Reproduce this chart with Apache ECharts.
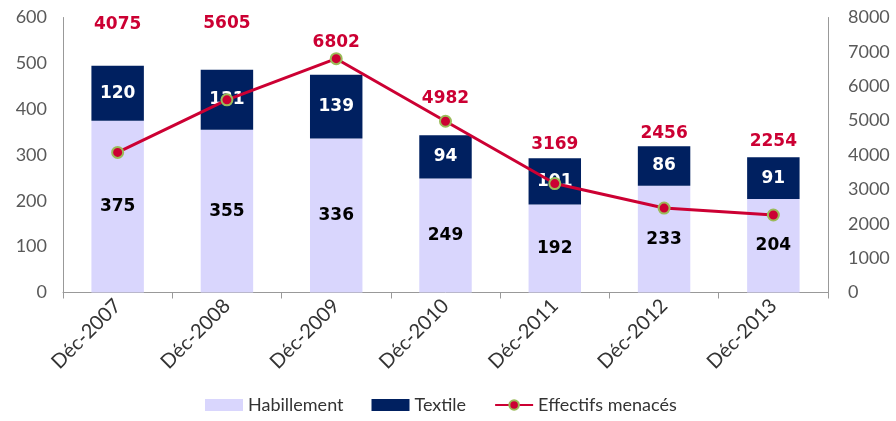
<!DOCTYPE html>
<html>
<head>
<meta charset="utf-8">
<script src="https://cdn.jsdelivr.net/npm/echarts@6/dist/echarts.min.js"></script>
<style>
  html, body { margin: 0; padding: 0; background: #fff; }
  #myChart { width: 896px; height: 421px; }
</style>
</head>
<body>
<div id="myChart"></div>
<script>
// données
var categories = ["Déc-2007", "Déc-2008", "Déc-2009", "Déc-2010", "Déc-2011", "Déc-2012", "Déc-2013"];
var habillement = [375, 355, 336, 249, 192, 233, 204];
var textile = [120, 131, 139, 94, 101, 86, 91];
var effectifs = [4075, 5605, 6802, 4982, 3169, 2456, 2254];

// décalage vertical des étiquettes de la courbe (placées à la main dans l'original)
var labelShift = [-108, -56, 4, -3, -19, -54, -53];

var chart = echarts.init(document.getElementById("myChart"));

var axisText = { color: "#595959", fontFamily: "Lato", fontSize: 18 };
var barLabelFont = { fontFamily: "DejaVu Sans", fontWeight: "bold", fontSize: 17 };

chart.setOption({
  animation: false,
  textStyle: { fontFamily: "Lato" },
  grid: { left: 63, right: 68, top: 17.5, bottom: 128.5 },
  legend: {
    left: 200,
    bottom: 2,
    itemWidth: 38,
    itemHeight: 12,
    itemGap: 28,
    textStyle: { color: "#333", fontFamily: "Lato", fontSize: 18 },
    data: [
      { name: "Habillement", icon: "rect" },
      { name: "Textile", icon: "rect" },
      { name: "Effectifs menacés" }
    ]
  },
  xAxis: {
    type: "category",
    data: categories,
    axisLine: { lineStyle: { color: "#999" } },
    axisTick: { show: true, length: 6, lineStyle: { color: "#999" } },
    axisLabel: { rotate: 45, margin: 10, color: "#333", fontFamily: "Lato", fontSize: 20 }
  },
  yAxis: [
    {
      type: "value",
      min: 0,
      max: 600,
      interval: 100,
      axisLine: { show: true, lineStyle: { color: "#999" } },
      axisTick: { show: false },
      splitLine: { show: false },
      axisLabel: Object.assign({ margin: 16 }, axisText)
    },
    {
      type: "value",
      min: 0,
      max: 8000,
      interval: 1000,
      position: "right",
      axisLine: { show: true, lineStyle: { color: "#999" } },
      axisTick: { show: false },
      splitLine: { show: false },
      axisLabel: Object.assign({ margin: 20, formatter: function (v) { return String(v); } }, axisText)
    }
  ],
  series: [
    {
      name: "Habillement",
      type: "bar",
      stack: "total",
      barWidth: "48%",
      itemStyle: { color: "#d9d6fd" },
      label: Object.assign({ show: true, position: "inside", color: "#000" }, barLabelFont),
      data: habillement
    },
    {
      name: "Textile",
      type: "bar",
      stack: "total",
      barWidth: "48%",
      itemStyle: { color: "#002060" },
      label: Object.assign({ show: true, position: "inside", color: "#fff" }, barLabelFont),
      data: textile
    },
    {
      name: "Effectifs menacés",
      type: "line",
      yAxisIndex: 1,
      symbol: "circle",
      symbolSize: 11,
      z: 5,
      lineStyle: { color: "#cc0033", width: 3 },
      itemStyle: { color: "#cc0033", borderColor: "#9bbb59", borderWidth: 2 },
      label: Object.assign({ show: true, position: "top", color: "#cc0033" }, barLabelFont),
      data: effectifs.map(function (v, i) {
        return { value: v, label: { offset: [0, labelShift[i]] } };
      })
    }
  ]
});
</script>
</body>
</html>
